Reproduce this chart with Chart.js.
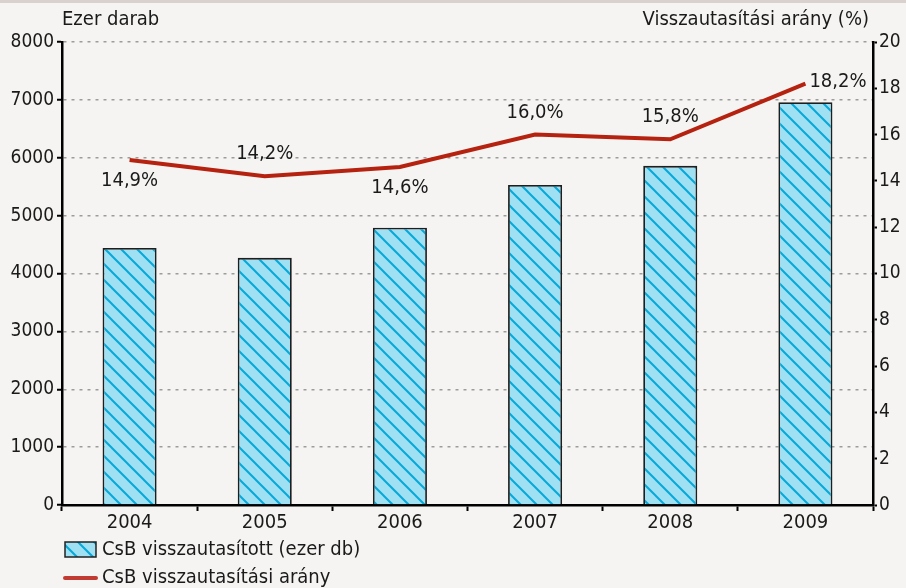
<!DOCTYPE html>
<html>
<head>
<meta charset="utf-8">
<script src="https://cdn.jsdelivr.net/npm/chart.js@4.4.1/dist/chart.umd.min.js"></script>
<style>
  html, body { margin: 0; padding: 0; background: #f5f4f2; }
  #wrap { width: 906px; height: 588px; position: relative; }
</style>
</head>
<body>
<div id="wrap"><canvas id="chart" width="906" height="588"></canvas></div>
<script>
const years = ['2004', '2005', '2006', '2007', '2008', '2009'];
const rejectedThousands = [4440, 4270, 4790, 5530, 5860, 6960];
const rejectionRate = [14.9, 14.2, 14.6, 16.0, 15.8, 18.2];
const rateLabelSide = ['below', 'above', 'below', 'above', 'above', 'right'];
const leftAxisMax = 8000, leftAxisStep = 1000;
const rightAxisMax = 20, rightAxisStep = 2;

const fontFamily = '"DejaVu Sans Condensed", "DejaVu Sans", sans-serif';
const textColor = '#1a1a1a';

// diagonal hatch for the bars
function makeHatch() {
    const size = 16;
    const c = document.createElement('canvas');
    c.width = size; c.height = size;
    const g = c.getContext('2d');
    g.fillStyle = '#9fe0f2';
    g.fillRect(0, 0, size, size);
    g.strokeStyle = '#08a8d8';
    g.lineWidth = 2;
    g.beginPath();
    g.moveTo(-2, -2); g.lineTo(size + 2, size + 2);
    g.moveTo(-2 - size, -2); g.lineTo(2, size + 2);
    g.moveTo(size - 2, -2); g.lineTo(2 * size + 2, size + 2);
    g.stroke();
    return g.createPattern(c, 'repeat');
}

const ctx = document.getElementById('chart').getContext('2d');
const hatch = makeHatch();

const decorations = {
    id: 'decorations',
    beforeDraw(chart) {
        const c = chart.ctx;
        c.save();
        c.fillStyle = '#f5f4f2';
        c.fillRect(0, 0, chart.width, chart.height);
        c.fillStyle = '#d8d1cd';
        c.fillRect(0, 0, chart.width, 3);
        c.restore();
    },
    afterDatasetsDraw(chart) {
        const c = chart.ctx;
        const meta = chart.getDatasetMeta(1);
        c.save();
        c.font = '20px ' + fontFamily;
        c.fillStyle = textColor;
        meta.data.forEach((pt, i) => {
            const txt = rejectionRate[i].toFixed(1).replace('.', ',') + '%';
            const side = rateLabelSide[i];
            c.textBaseline = 'middle';
            if (side === 'right') {
                c.textAlign = 'left';
                c.fillText(txt, pt.x + 4, pt.y - 2);
            } else {
                c.textAlign = 'center';
                c.fillText(txt, pt.x, side === 'above' ? pt.y - 22 : pt.y + 21);
            }
        });
        c.restore();
    },
    afterDraw(chart) {
        const c = chart.ctx;
        const area = chart.chartArea;
        c.save();
        c.font = '20px ' + fontFamily;
        c.fillStyle = textColor;
        c.textBaseline = 'middle';
        c.textAlign = 'left';
        c.fillText('Ezer darab', area.left, 20);
        c.textAlign = 'right';
        c.fillText('Visszautasítási arány (%)', area.right - 4, 20);

        // legend
        c.fillStyle = hatch;
        c.fillRect(65, 542, 31, 15);
        c.strokeStyle = '#222';
        c.lineWidth = 1.5;
        c.strokeRect(65, 542, 31, 15);
        c.strokeStyle = '#c23b32';
        c.lineWidth = 4;
        c.lineCap = 'round';
        c.beginPath();
        c.moveTo(65, 578);
        c.lineTo(96, 578);
        c.stroke();
        c.fillStyle = textColor;
        c.textAlign = 'left';
        c.fillText('CsB visszautasított (ezer db)', 102, 550);
        c.fillText('CsB visszautasítási arány', 102, 578);
        c.restore();
    }
};

const plainNumber = v => String(v);

new Chart(ctx, {
    data: {
        labels: years,
        datasets: [{
            type: 'bar',
            label: 'CsB visszautasított (ezer db)',
            data: rejectedThousands,
            backgroundColor: hatch,
            borderColor: '#1e1e1e',
            borderWidth: 1.8,
            barPercentage: 0.8,
            categoryPercentage: 0.5,
            yAxisID: 'y',
            order: 1
        }, {
            type: 'line',
            label: 'CsB visszautasítási arány',
            data: rejectionRate,
            borderColor: '#b5220f',
            borderWidth: 4,
            pointRadius: 0,
            tension: 0,
            yAxisID: 'y1',
            order: 0
        }]
    },
    options: {
        responsive: false,
        animation: false,
        layout: { padding: { top: 42, left: 0, right: 0, bottom: 53 } },
        plugins: {
            legend: { display: false },
            tooltip: { enabled: false }
        },
        scales: {
            x: {
                afterFit: s => { s.height = 30; },
                grid: { offset: true, drawOnChartArea: false, tickColor: '#000', tickWidth: 2, tickLength: 6 },
                border: { color: '#000', width: 2.5 },
                ticks: { color: textColor, font: { family: fontFamily, size: 20 }, padding: 0 }
            },
            y: {
                position: 'left',
                min: 0, max: leftAxisMax,
                afterFit: s => { s.width = 62; },
                grid: { color: '#9c9c9c', lineWidth: 1.5, tickColor: '#000', tickWidth: 2, tickLength: 5 },
                border: { color: '#000', width: 2.5, dash: [3, 5] },
                ticks: { stepSize: leftAxisStep, callback: plainNumber, color: textColor, font: { family: fontFamily, size: 19 }, padding: 3 }
            },
            y1: {
                position: 'right',
                min: 0, max: rightAxisMax,
                afterFit: s => { s.width = 33; },
                grid: { drawOnChartArea: false, tickColor: '#000', tickWidth: 2, tickLength: 4 },
                border: { color: '#000', width: 2.5 },
                ticks: { stepSize: rightAxisStep, callback: plainNumber, color: textColor, font: { family: fontFamily, size: 19 }, padding: 2 }
            }
        }
    },
    plugins: [decorations]
});
</script>
</body>
</html>
